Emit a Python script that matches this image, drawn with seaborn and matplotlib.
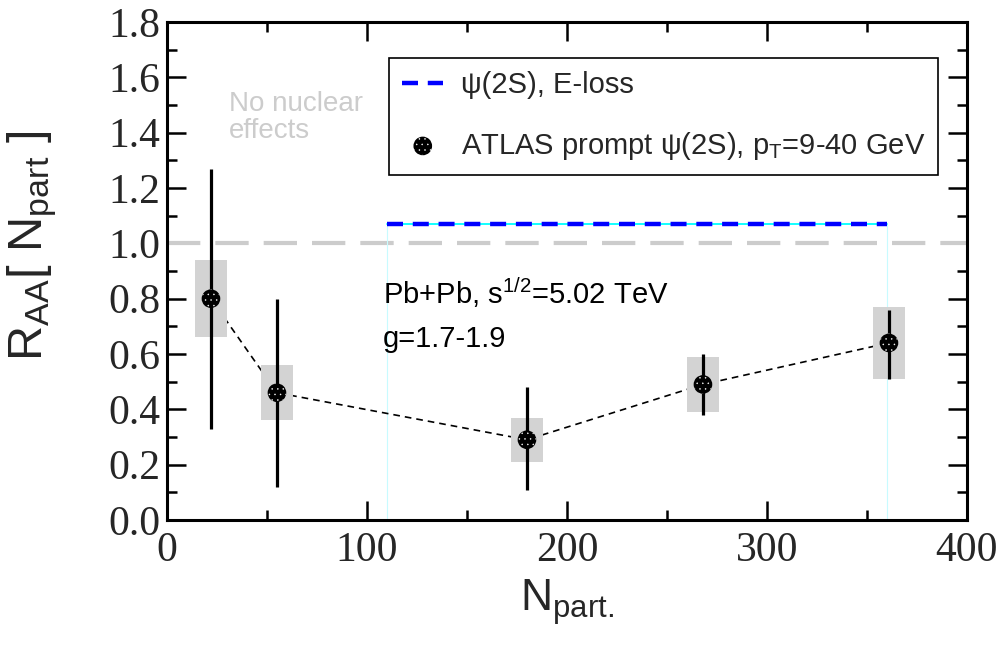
import numpy as np
import matplotlib
matplotlib.use("Agg")
import matplotlib.pyplot as plt
import seaborn as sns
from matplotlib.ticker import MultipleLocator, FormatStrFormatter

# ---- data ----
npart = [22, 55, 180, 268, 361]
raa = [0.80, 0.46, 0.29, 0.49, 0.64]
stat_lo = [0.33, 0.12, 0.11, 0.38, 0.51]
stat_hi = [1.27, 0.80, 0.48, 0.60, 0.76]
sys_lo = [0.66, 0.36, 0.21, 0.39, 0.51]
sys_hi = [0.94, 0.56, 0.37, 0.59, 0.77]
eloss_npart = [110, 360]
eloss_raa = [1.07, 1.07]
baseline = 1.0
xticks = [0, 100, 200, 300, 400]
yticks = [0.0, 0.2, 0.4, 0.6, 0.8, 1.0, 1.2, 1.4, 1.6, 1.8]

sns.set_style("ticks")
plt.rcParams["font.family"] = ["Liberation Sans", "DejaVu Sans"]
plt.rcParams["mathtext.fontset"] = "custom"
plt.rcParams["mathtext.rm"] = "Liberation Sans"
plt.rcParams["mathtext.it"] = "Liberation Sans:italic"
plt.rcParams["mathtext.bf"] = "Liberation Sans:bold"
plt.rcParams["hatch.color"] = "white"
plt.rcParams["hatch.linewidth"] = 0.3

fig = plt.figure(figsize=(10.04, 6.47), dpi=100)
ax = fig.add_axes([0.1663, 0.1963, 0.7968, 0.7697])

# no nuclear effects baseline
ax.axhline(baseline, color="#cccccc", lw=3, linestyle=(0, (8, 3.6)), zorder=1)

# E-loss band edges (cyan) and line
ax.vlines(eloss_npart, 0, eloss_raa, color="#c8fbff", lw=0.8, zorder=1)
sns.lineplot(x=eloss_npart, y=eloss_raa, ax=ax, color="#00ffff", lw=1.3, zorder=2)
sns.lineplot(x=eloss_npart, y=eloss_raa, ax=ax, color="#0000ff", lw=3.2,
             linestyle=(0, (3.6, 2.2)), zorder=3, label=r"ψ(2S), E-loss")

# connecting dashed line
sns.lineplot(x=npart, y=raa, ax=ax, color="black", lw=1.2,
             linestyle=(0, (4, 3)), zorder=2)

# systematic boxes
ax.bar(npart, height=np.subtract(sys_hi, sys_lo), bottom=sys_lo, width=16,
       color="#d3d3d3", edgecolor="none", zorder=3)

# statistical error bars
err = [np.subtract(raa, stat_lo), np.subtract(stat_hi, raa)]
ax.errorbar(npart, raa, yerr=err, fmt="none", ecolor="black", elinewidth=2.3,
            capsize=0, zorder=4)

# markers
sns.scatterplot(x=npart, y=raa, ax=ax, marker="o", s=180, color="black",
                edgecolor="white", linewidth=0, hatch="...", zorder=5,
                label=r"ATLAS prompt ψ(2S), $\mathregular{p_T}$=9-40 GeV")

ax.set_xlim(0, 400)
ax.set_ylim(0, 1.8)
ax.set_xticks(xticks)
ax.set_yticks(yticks)
ax.xaxis.set_minor_locator(MultipleLocator(50))
ax.yaxis.set_minor_locator(MultipleLocator(0.1))
ax.yaxis.set_major_formatter(FormatStrFormatter("%.1f"))
ax.tick_params(which="both", direction="in", top=True, right=True, width=1.8,
               color="black")
ax.tick_params(which="major", length=14)
ax.tick_params(which="minor", length=7)
ax.tick_params(axis="y", pad=5)
ax.tick_params(axis="x", pad=8)
for lab in ax.get_xticklabels() + ax.get_yticklabels():
    lab.set_fontfamily("Liberation Serif")
    lab.set_fontsize(30)
for sp in ax.spines.values():
    sp.set_linewidth(2.2)
    sp.set_color("black")

ax.set_xlabel(r"$\mathregular{N_{part.}}$", fontsize=32)
ax.set_ylabel(r"$\mathregular{R_{AA}[\ N_{part}\ ]}$", fontsize=35)
ax.xaxis.set_label_coords(0.5, -0.115)
ax.yaxis.set_label_coords(-0.135, 0.55)

ax.text(31, 1.55, "No nuclear\neffects", color="#cccccc", fontsize=20,
        va="top", ha="left", linespacing=1.05)
ax.text(108, 0.78, r"Pb+Pb, $\mathregular{s^{1/2}}$=5.02 TeV", fontsize=21,
        va="baseline", ha="left", color="black")
ax.text(108, 0.625, "g=1.7-1.9", fontsize=21, va="baseline", ha="left",
        color="black")

leg = ax.legend(loc="upper right", bbox_to_anchor=(0.964, 0.928), fontsize=21,
                frameon=True, fancybox=False, framealpha=1, edgecolor="black",
                borderpad=0.45, labelspacing=1.05, handlelength=1.4,
                handletextpad=0.6, borderaxespad=0)
leg.get_frame().set_linewidth(1.2)

fig.savefig("out.png", dpi=100)
